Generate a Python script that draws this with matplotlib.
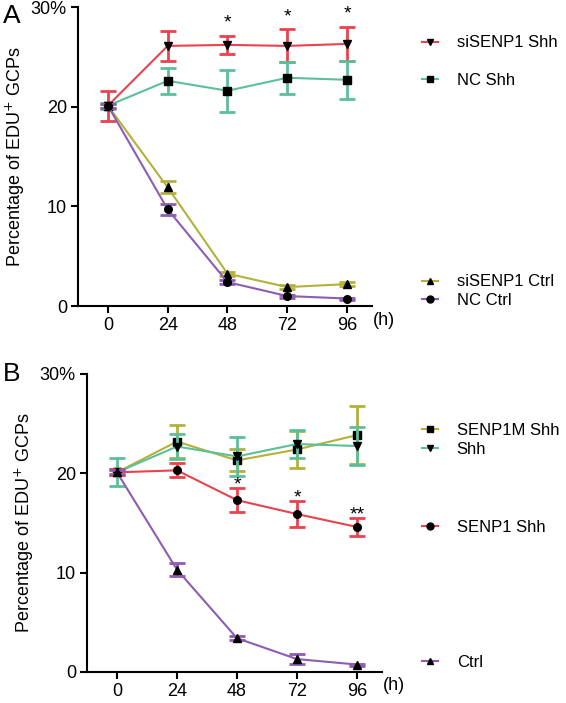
import matplotlib
matplotlib.use("Agg")
import matplotlib.pyplot as plt
from matplotlib.lines import Line2D

plt.rcParams['font.family'] = ['Liberation Sans', 'DejaVu Sans']

hours = [0, 24, 48, 72, 96]

# panel A
a_names = ["siSENP1 Shh", "NC Shh", "siSENP1 Ctrl", "NC Ctrl"]
a_means = [
    [20.1, 26.1, 26.2, 26.1, 26.3],
    [20.1, 22.6, 21.6, 22.9, 22.7],
    [20.1, 11.9, 3.25, 1.9, 2.2],
    [20.1, 9.7, 2.4, 1.0, 0.75],
]
a_errs = [
    [1.5, 1.5, 0.9, 1.65, 1.7],
    [0.3, 1.3, 2.1, 1.6, 1.9],
    [0.2, 0.6, 0.2, 0.2, 0.2],
    [0.2, 0.55, 0.2, 0.15, 0.1],
]
a_stars = [None, None, "*", "*", "*"]

# panel B
b_names = ["SENP1M Shh", "Shh", "SENP1 Shh", "Ctrl"]
b_means = [
    [20.1, 23.2, 21.3, 22.4, 23.85],
    [20.1, 22.7, 21.7, 22.95, 22.75],
    [20.1, 20.3, 17.3, 15.9, 14.6],
    [20.1, 10.3, 3.4, 1.3, 0.75],
]
b_errs = [
    [0.3, 1.7, 1.1, 1.9, 2.9],
    [1.4, 1.3, 2.0, 1.4, 1.9],
    [0.3, 0.7, 1.2, 1.3, 0.9],
    [0.2, 0.65, 0.2, 0.5, 0.1],
]
b_stars = [None, None, "*", "*", "**"]

yticks = [0, 10, 20, 30]
yticklabels = ["0", "10", "20", "30%"]

red = "#e8434f"
teal = "#5dbf9a"
olive = "#b3b13a"
purple = "#8d5cb3"

fig = plt.figure(figsize=(5.66, 7.03), dpi=100)


def panel(rect, names, means, errs, colors, markers, order, star_series, stars,
          star_gap, leg_y, leg_x, letter, letter_xy):
    ax = fig.add_axes(rect)
    for i in order:
        ax.errorbar(hours, means[i], yerr=errs[i], color=colors[i], lw=1.5,
                    elinewidth=2, capsize=6, capthick=2, marker=markers[i],
                    mfc="black", mec="black", ms=5.5, zorder=3 + i)
    for x, m, e, s in zip(hours, means[star_series], errs[star_series], stars):
        if s:
            ax.text(x, m + e + star_gap, s, ha="center", va="center",
                    fontsize=14, zorder=10)
    ax.set_xlim(-12, 106)
    ax.set_ylim(0, 30)
    ax.set_xticks(hours)
    ax.set_yticks(yticks)
    ax.set_yticklabels(yticklabels)
    for s in ["top", "right"]:
        ax.spines[s].set_visible(False)
    for s in ["left", "bottom"]:
        ax.spines[s].set_linewidth(1.5)
    ax.tick_params(width=1.5, length=5, labelsize=13, pad=3)
    ax.set_ylabel("Percentage of EDU$^{+}$ GCPs", fontsize=13, labelpad=3)
    ax.annotate("(h)", xy=(1.0, 0), xycoords="axes fraction",
                xytext=(1, -14), textcoords="offset pixels",
                ha="left", va="center", fontsize=13)
    ax.text(letter_xy[0], letter_xy[1], letter, transform=ax.transAxes,
            fontsize=19, ha="left", va="center")
    for i, name in enumerate(names):
        h = Line2D([], [], color=colors[i], lw=1.5, marker=markers[i],
                   mfc="black", mec="black", ms=5)
        fig.legend(handles=[h], labels=[name], loc="center left",
                   bbox_to_anchor=(leg_x, leg_y[i]), frameon=False,
                   fontsize=12, handlelength=1.0, handletextpad=1.1,
                   borderpad=0, borderaxespad=0)
    return ax


panel([0.1378, 0.5647, 0.5194, 0.4253], a_names, a_means, a_errs,
      [red, teal, olive, purple], ["v", "s", "^", "o"], [3, 2, 1, 0], 0,
      a_stars, 1.3, [0.939, 0.886, 0.599, 0.573], 0.745, "A", (-0.255, 0.97))

panel([0.1537, 0.0441, 0.5212, 0.4239], b_names, b_means, b_errs,
      [olive, teal, red, purple], ["s", "v", "o", "^"], [3, 2, 0, 1], 2,
      b_stars, 0.3, [0.388, 0.361, 0.250, 0.058], 0.745, "B", (-0.285, 1.0))

fig.savefig("out.png", dpi=100)
